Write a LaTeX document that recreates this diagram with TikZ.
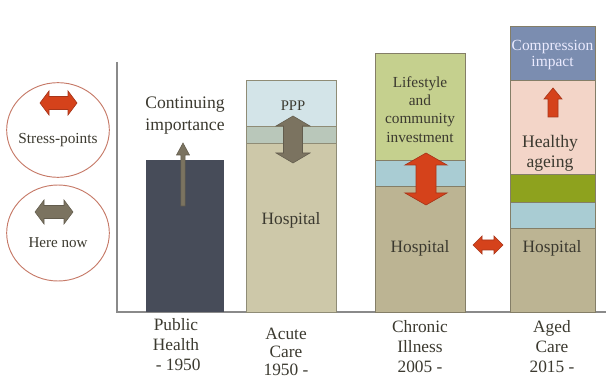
\documentclass[tikz,border=0pt]{standalone}
\usepackage{fontspec}
\setmainfont{Liberation Serif}
\begin{document}
% coordinates are given in pixel units, y growing downwards
\begin{tikzpicture}[x=0.75pt,y=-0.75pt]
\definecolor{txt}{HTML}{3B392F}
\definecolor{slate}{HTML}{474C59}
\definecolor{brownarr}{HTML}{7B7360}
\definecolor{redarr}{HTML}{D5421B}
\definecolor{redline}{HTML}{A8361A}
\definecolor{hospA}{HTML}{CDC8A9}
\definecolor{hospB}{HTML}{BCB493}
\definecolor{pppblue}{HTML}{D3E4E8}
\definecolor{overlap}{HTML}{B9C7BA}
\definecolor{lifegreen}{HTML}{C5D08E}
\definecolor{bandblue}{HTML}{A9CCD3}
\definecolor{compress}{HTML}{7B8DB0}
\definecolor{pink}{HTML}{F3D5C8}
\definecolor{olive}{HTML}{8EA21E}
\definecolor{ring}{HTML}{C67A68}
\definecolor{axisgray}{HTML}{8A8A8A}
\tikzset{
  seg/.style={draw=#1!70!black, line width=0.5pt},
  lbl/.style={text=txt, inner sep=0pt, align=center, font=\fontsize{13}{15}\selectfont},
  small/.style={lbl, font=\fontsize{11.5}{13.7}\selectfont},
  redblock/.style={fill=redarr, draw=redline, line width=0.5pt},
  brownblock/.style={fill=brownarr, draw=brownarr!80!black, line width=0.4pt},
  legendring/.style={draw=ring, line width=0.7pt}
}
% block arrows: style, centre, start, end, half head width, half shaft width, head length
\newcommand\blockvv[7]{\filldraw[#1] (#2,#3) -- ({#2+#5},{#3+#7}) -- ({#2+#6},{#3+#7}) -- ({#2+#6},{#4-#7}) -- ({#2+#5},{#4-#7}) -- (#2,#4) -- ({#2-#5},{#4-#7}) -- ({#2-#6},{#4-#7}) -- ({#2-#6},{#3+#7}) -- ({#2-#5},{#3+#7}) -- cycle;}
\newcommand\blockhh[7]{\filldraw[#1] (#3,#2) -- ({#3+#7},{#2-#5}) -- ({#3+#7},{#2-#6}) -- ({#4-#7},{#2-#6}) -- ({#4-#7},{#2-#5}) -- (#4,#2) -- ({#4-#7},{#2+#5}) -- ({#4-#7},{#2+#6}) -- ({#3+#7},{#2+#6}) -- ({#3+#7},{#2+#5}) -- cycle;}
\newcommand\blockup[7]{\filldraw[#1] (#2,#3) -- ({#2+#5},{#3+#7}) -- ({#2+#6},{#3+#7}) -- ({#2+#6},#4) -- ({#2-#6},#4) -- ({#2-#6},{#3+#7}) -- ({#2-#5},{#3+#7}) -- cycle;}

\useasboundingbox (0,0) rectangle (611,381);

% legend
\draw[legendring] (58,130) ellipse [x radius=38.5pt, y radius=35.5pt];
\draw[legendring] (58,233) ellipse [x radius=38.5pt, y radius=36pt];
\blockhh{redblock}{103}{40}{77}{12}{6.5}{9}
\blockhh{brownblock}{212}{35}{73}{12}{6.5}{9}
\node[lbl, font=\fontsize{11.5}{13}\selectfont] (stress) at (58,140) {Stress-points};
\node[lbl, font=\fontsize{11.3}{13}\selectfont] (herenow) at (58,243) {Here now};

% axes
\draw[axisgray, line width=0.8pt] (117,62) -- (117,312) -- (606,312);

% public health bar
\fill[slate] (146,160) rectangle (224,312);
\blockup{brownblock}{183}{143}{206}{6.5}{2.2}{12}
\node[lbl, font=\fontsize{13.2}{16.5}\selectfont] (continuing) at (185,116) {Continuing\\importance};

% acute care bar
\filldraw[fill=pppblue, seg=hospA] (246,80) rectangle (336,126);
\filldraw[fill=overlap, seg=hospA] (246,126) rectangle (336,143);
\filldraw[fill=hospA, seg=hospA] (246,143) rectangle (336,312);
\node[lbl, font=\fontsize{11}{13}\selectfont] (ppp) at (293,106) {PPP};
\blockvv{brownblock}{293}{116}{163}{17}{9.5}{10}
\node[lbl] (hospA) at (291,220) {Hospital};

% chronic illness bar
\filldraw[fill=lifegreen, seg=hospB] (375,53) rectangle (465,160);
\filldraw[fill=bandblue, seg=hospB] (375,160) rectangle (465,186);
\filldraw[fill=hospB, seg=hospB] (375,186) rectangle (465,312);
\node[small] (lifestyle) at (420,109.5) {Lifestyle\\and\\community\\investment};
\blockvv{redblock}{426}{153}{205}{21}{10}{12}
\node[lbl] (hospB) at (420,248) {Hospital};

% shift between chronic and aged care
\blockhh{redblock}{245}{473}{503}{9}{5}{9}

% aged care bar
\filldraw[fill=compress, seg=hospB] (510,26) rectangle (595,80);
\filldraw[fill=pink, seg=hospB] (510,80) rectangle (595,174);
\filldraw[fill=olive, seg=hospB] (510,174) rectangle (595,202);
\filldraw[fill=bandblue, seg=hospB] (510,202) rectangle (595,228);
\filldraw[fill=hospB, seg=hospB] (510,228) rectangle (595,312);
\node[lbl, text=white!92!blue, font=\fontsize{11.6}{12}\selectfont] (compression) at (552.5,55) {Compression\\impact};
\blockup{redblock}{553}{88}{117}{9}{5}{11}
\node[lbl, font=\fontsize{13.2}{15}\selectfont] (healthy) at (550,153) {Healthy\\ageing};
\node[lbl] (hospC) at (552,248) {Hospital};

% era labels
\node[lbl] (public) at (176,345) {Public\\Health\\~- 1950};
\node[lbl, font=\fontsize{13}{13.5}\selectfont] (acute) at (286,352) {Acute\\Care\\1950 -};
\node[lbl] (chronic) at (420,347) {Chronic\\Illness\\2005 -};
\node[lbl] (aged) at (552,347) {Aged\\Care\\2015 -};
\end{tikzpicture}
\end{document}
